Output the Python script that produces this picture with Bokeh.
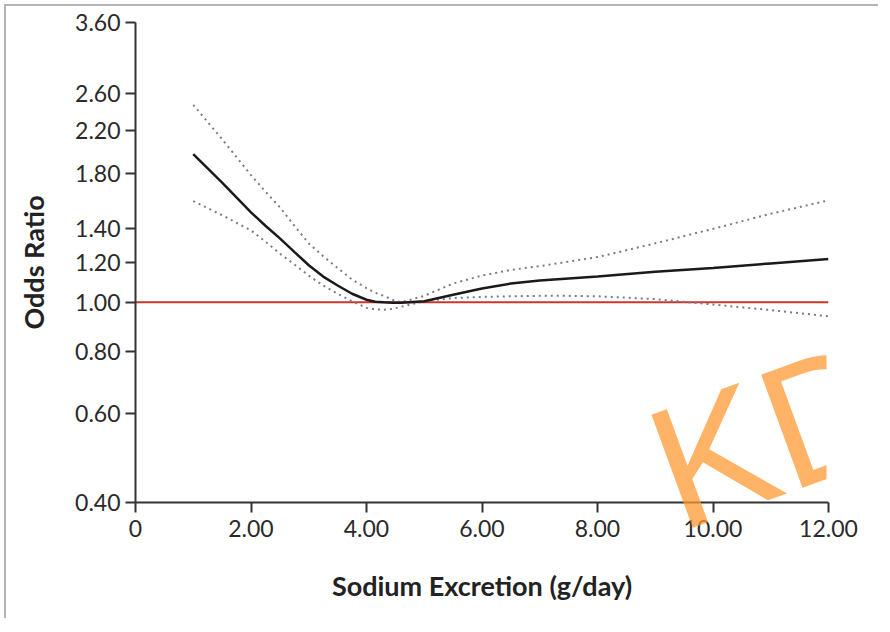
from bokeh.plotting import figure
from bokeh.layouts import column
from bokeh.models import FixedTicker, CustomJSTickFormatter, PrintfTickFormatter, Label, Range1d
from bokeh.embed import file_html
from bokeh.resources import INLINE

# Data
sodium = [1.0, 1.5, 2.0, 2.25, 2.5, 2.75, 3.0, 3.25, 3.5, 3.75, 4.0, 4.15, 4.3, 4.45, 4.6,
          5.0, 5.5, 6.0, 6.5, 7.0, 7.5, 8.0, 9.0, 10.0, 11.0, 12.0]
odds_ratio = [1.97, 1.73, 1.51, 1.42, 1.34, 1.26, 1.185, 1.125, 1.08, 1.04, 1.012, 1.003, 1.0, 0.998, 0.998,
              1.005, 1.035, 1.065, 1.09, 1.105, 1.115, 1.125, 1.15, 1.17, 1.195, 1.22]
upper_ci = [2.47, 2.11, 1.79, 1.66, 1.545, 1.42, 1.31, 1.235, 1.17, 1.11, 1.067, 1.045, 1.03, 1.012, 1.0,
            1.03, 1.09, 1.13, 1.16, 1.18, 1.205, 1.23, 1.31, 1.40, 1.50, 1.595]
lower_ci = [1.59, 1.49, 1.39, 1.32, 1.25, 1.19, 1.13, 1.08, 1.04, 1.005, 0.975, 0.968, 0.967, 0.970, 0.98,
            1.005, 1.02, 1.025, 1.028, 1.03, 1.03, 1.028, 1.015, 0.99, 0.965, 0.938]
ref_x = [0, 12]
ref_y = [1.0, 1.0]
y_ticks = [0.4, 0.6, 0.8, 1.0, 1.2, 1.4, 1.8, 2.2, 2.6, 3.6]
x_ticks = [0, 2, 4, 6, 8, 10, 12]

FONT = "Lato"

p = figure(width=874, height=614, x_range=(0, 12), y_range=(0.4, 3.6),
           y_axis_type="log", output_backend="svg", toolbar_location=None,
           min_border_left=129, min_border_top=16, min_border_bottom=118, min_border_right=52)
p.styles = {"margin-top": "4px", "margin-left": "4px",
            "border-top": "2px solid #b4b4b4", "border-left": "2px solid #b4b4b4"}
p.outline_line_color = None
p.grid.visible = False

p.line(ref_x, ref_y, line_color="#c8372d", line_width=2)
p.line(sodium, upper_ci, line_color="#7a7a88", line_width=2, line_dash="2 4")
p.line(sodium, lower_ci, line_color="#7a7a88", line_width=2, line_dash="2 4")
p.line(sodium, odds_ratio, line_color="#1a1a1a", line_width=2.5)

for ax in (p.xaxis[0], p.yaxis[0]):
    ax.axis_line_color = "#333333"
    ax.axis_line_width = 2
    ax.major_tick_line_color = "#333333"
    ax.major_tick_line_width = 2
    ax.major_tick_out = 10
    ax.major_tick_in = 0
    ax.minor_tick_line_color = None
    ax.major_label_text_font = FONT
    ax.major_label_text_font_size = "23px"
    ax.major_label_text_color = "#2a2a2a"
    ax.axis_label_text_font = FONT
    ax.axis_label_text_font_style = "bold"
    ax.axis_label_text_font_size = "27px"
    ax.axis_label_text_color = "#222222"

p.yaxis[0].ticker = FixedTicker(ticks=y_ticks)
p.yaxis[0].formatter = PrintfTickFormatter(format="%.2f")
p.yaxis[0].axis_label = "Odds Ratio"
p.yaxis[0].major_label_standoff = 5
p.yaxis[0].axis_label_standoff = 22

p.xaxis[0].ticker = FixedTicker(ticks=x_ticks)
p.xaxis[0].formatter = CustomJSTickFormatter(code="return tick == 0 ? '0' : tick.toFixed(2);")
p.xaxis[0].axis_label = "Sodium Excretion (g/day)"
p.xaxis[0].major_label_standoff = 7
p.xaxis[0].axis_label_standoff = 29

# Transparent full-page overlay for the "KD" watermark (so it is not clipped by the plot frame)
wm_fig = figure(width=884, height=620, x_range=Range1d(0, 884), y_range=Range1d(620, 0),
                x_axis_location=None, y_axis_location=None, title_location=None,
                output_backend="svg", toolbar_location=None, min_border=0)
wm_fig.grid.visible = False
wm_fig.outline_line_color = None
wm_fig.background_fill_color = None
wm_fig.border_fill_color = None
wm_fig.styles = {"position": "absolute", "left": "0px", "top": "0px", "pointer-events": "none"}
wm = Label(x=671, y=477, text="KD", angle=0.35, text_font="Liberation Sans",
           text_font_size="175px", text_color="#ff9933", text_alpha=0.75,
           text_align="left", text_baseline="alphabetic")
wm_fig.add_layout(wm)

root = column(p, wm_fig)
open("out.html", "w").write(file_html(root, INLINE))
